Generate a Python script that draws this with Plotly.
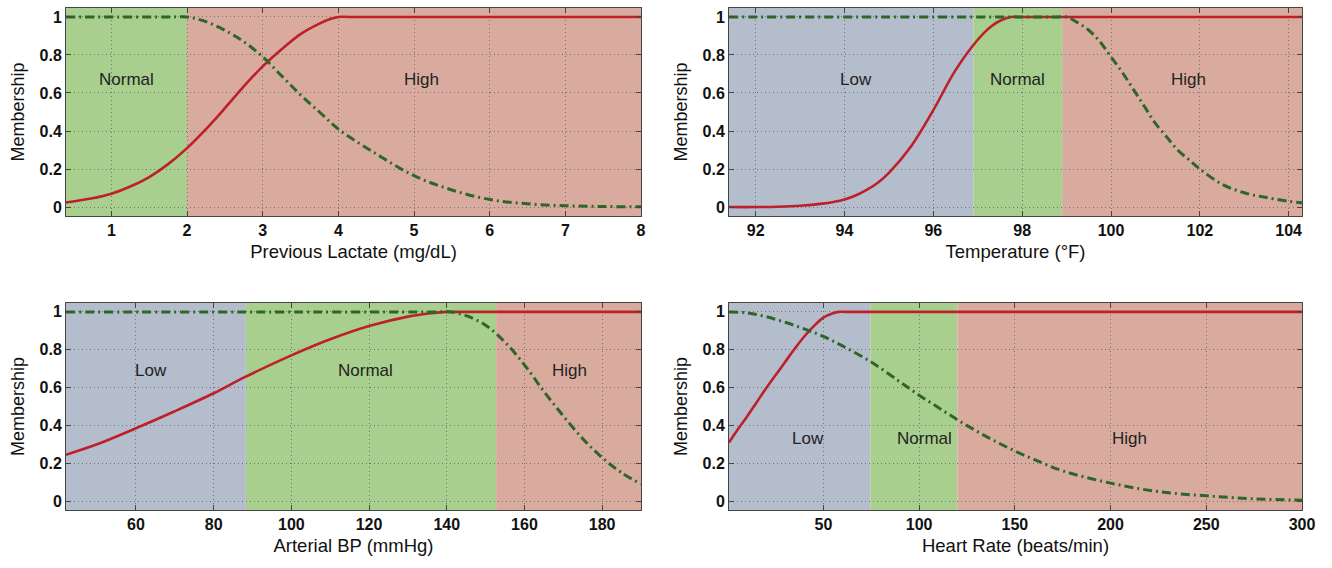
import plotly.graph_objects as go

# ---------------- data ----------------
lac_hi_x = [0.4, 0.75, 1.0, 1.25, 1.5, 1.75, 2.0, 2.25, 2.5, 2.75, 3.0, 3.25, 3.5, 3.75, 3.9, 4.0, 4.15, 8.0]
lac_hi_y = [0.024, 0.046, 0.07, 0.108, 0.158, 0.226, 0.31, 0.41, 0.52, 0.635, 0.74, 0.83, 0.91, 0.965, 0.99, 1.0, 1.0, 1.0]
lac_no_x = [0.4, 1.8, 2.0, 2.25, 2.5, 2.75, 3.0, 3.25, 3.5, 3.75, 4.0, 4.5, 5.0, 5.5, 6.0, 6.5, 7.0, 7.5, 8.0]
lac_no_y = [1.0, 1.0, 1.0, 0.975, 0.93, 0.87, 0.79, 0.69, 0.59, 0.50, 0.41, 0.28, 0.165, 0.09, 0.04, 0.017, 0.007, 0.003, 0.001]

tmp_a_x = [91.4, 92.0, 92.5, 93.0, 93.5, 93.75, 94.0, 94.25, 94.5, 94.75, 95.0, 95.5, 96.0, 96.5, 97.0, 97.3, 97.55, 97.75, 97.95, 104.3]
tmp_a_y = [0.0, 0.0, 0.002, 0.007, 0.018, 0.027, 0.04, 0.061, 0.09, 0.128, 0.18, 0.32, 0.51, 0.72, 0.88, 0.95, 0.985, 1.0, 1.0, 1.0]
tmp_b_x = [91.4, 98.8, 99.0, 99.25, 99.5, 99.75, 100.0, 100.25, 100.5, 100.75, 101.0, 101.25, 101.5, 101.75, 102.0, 102.5, 103.0, 103.5, 104.0, 104.3]
tmp_b_y = [1.0, 1.0, 1.0, 0.97, 0.93, 0.87, 0.79, 0.71, 0.62, 0.53, 0.44, 0.37, 0.30, 0.25, 0.20, 0.12, 0.075, 0.05, 0.03, 0.022]

bp_a_x = [42, 50, 60, 70, 80, 88, 100, 110, 120, 130, 136, 140, 144, 190]
bp_a_y = [0.245, 0.30, 0.385, 0.475, 0.57, 0.655, 0.77, 0.855, 0.925, 0.975, 0.993, 1.0, 1.0, 1.0]
bp_b_x = [42, 138, 141, 145, 150, 155, 160, 165, 170, 175, 180, 185, 190]
bp_b_y = [1.0, 1.0, 1.0, 0.98, 0.93, 0.84, 0.72, 0.58, 0.45, 0.33, 0.23, 0.15, 0.09]

hr_a_x = [0.7, 5, 10, 15, 20, 25, 30, 35, 40, 45, 50, 55, 58, 62, 300]
hr_a_y = [0.31, 0.375, 0.445, 0.52, 0.595, 0.665, 0.735, 0.805, 0.87, 0.925, 0.97, 0.993, 1.0, 1.0, 1.0]
hr_b_x = [0.7, 10, 20, 30, 40, 50, 60, 75, 90, 100, 110, 120, 130, 140, 150, 160, 175, 200, 225, 250, 275, 300]
hr_b_y = [1.0, 0.995, 0.975, 0.945, 0.91, 0.87, 0.82, 0.735, 0.63, 0.56, 0.495, 0.43, 0.37, 0.315, 0.265, 0.22, 0.16, 0.095, 0.05, 0.028, 0.012, 0.005]

# x ranges, ticks and region boundaries
x_titles = ["Previous Lactate (mg/dL)", "Temperature (°F)", "Arterial BP (mmHg)", "Heart Rate (beats/min)"]
x_ranges = [[0.4, 8], [91.4, 104.3], [42, 190], [0.7, 300]]
x_ticks = [[1, 2, 3, 4, 5, 6, 7, 8], [92, 94, 96, 98, 100, 102, 104],
           [60, 80, 100, 120, 140, 160, 180], [50, 100, 150, 200, 250, 300]]
y_ticks = [0, 0.2, 0.4, 0.6, 0.8, 1]
y_tick_text = ["0", "0.2", "0.4", "0.6", "0.8", "1"]

regions = [
    [("Normal", 0.4, 2.0), ("High", 2.0, 8.0)],
    [("Low", 91.4, 96.9), ("Normal", 96.9, 98.9), ("High", 98.9, 104.3)],
    [("Low", 42, 88.3), ("Normal", 88.3, 152.7), ("High", 152.7, 190)],
    [("Low", 0.7, 74.5), ("Normal", 74.5, 120), ("High", 120, 300)],
]
labels = [
    [("Normal", 1.2, 0.67), ("High", 5.1, 0.67)],
    [("Low", 94.25, 0.67), ("Normal", 97.9, 0.67), ("High", 101.75, 0.67)],
    [("Low", 64, 0.69), ("Normal", 119, 0.69), ("High", 171.5, 0.69)],
    [("Low", 42, 0.33), ("Normal", 103, 0.33), ("High", 210, 0.33)],
]
red_curves = [(lac_hi_x, lac_hi_y), (tmp_a_x, tmp_a_y), (bp_a_x, bp_a_y), (hr_a_x, hr_a_y)]
green_curves = [(lac_no_x, lac_no_y), (tmp_b_x, tmp_b_y), (bp_b_x, bp_b_y), (hr_b_x, hr_b_y)]

# ---------------- styling ----------------
W, H = 1332, 568
region_colors = {"Normal": "rgb(168,207,141)", "High": "rgb(217,171,159)", "Low": "rgb(179,189,204)"}
red = "rgb(190,32,42)"
green = "rgb(46,102,40)"
font = "Liberation Sans, Arial, sans-serif"

# panel frames in pixels: (left, right, top, bottom)
frames = [(66, 641, 8, 216), (729, 1302, 8, 216), (66, 641, 303, 510), (729, 1302, 303, 510)]

fig = go.Figure()
layout = dict(
    width=W, height=H, margin=dict(l=0, r=0, t=0, b=0, autoexpand=False),
    paper_bgcolor="white", plot_bgcolor="white", showlegend=False,
    font=dict(family=font, color="#111"),
)
grid = dict(showgrid=True, gridcolor="rgb(115,115,115)", griddash="1px,3px", gridwidth=1)
shapes = []
annotations = []
for i in range(4):
    sfx = "" if i == 0 else str(i + 1)
    xa, ya = "x" + sfx, "y" + sfx
    l, r, t, b = frames[i]
    layout["xaxis" + sfx] = dict(
        domain=[l / W, r / W], range=x_ranges[i], anchor=ya, automargin=False,
        tickvals=x_ticks[i], ticks="inside", ticklen=5, tickcolor="#444",
        showline=True, linecolor="#444", linewidth=1, mirror="allticks",
        zeroline=False, tickfont=dict(size=16, family=font, color="#111", weight="bold"),
        title=dict(text=x_titles[i], font=dict(size=18.5, family=font, color="#111"), standoff=6),
        **grid,
    )
    layout["yaxis" + sfx] = dict(
        domain=[1 - b / H, 1 - t / H], range=[-0.047, 1.047], anchor=xa, automargin=False,
        tickvals=y_ticks, ticktext=y_tick_text, ticks="inside", ticklen=5, tickcolor="#444",
        showline=True, linecolor="#444", linewidth=1, mirror="allticks",
        zeroline=False, tickfont=dict(size=16, family=font, color="#111", weight="bold"),
        title=dict(text="Membership", font=dict(size=18, family=font, color="#111"), standoff=10),
        **grid,
    )
    for name, x0, x1 in regions[i]:
        shapes.append(dict(type="rect", xref=xa, yref=ya + " domain", x0=x0, x1=x1, y0=0, y1=1,
                           fillcolor=region_colors[name], line=dict(width=0), layer="below"))
    for name, lx, ly in labels[i]:
        annotations.append(dict(text=name, x=lx, y=ly, xref=xa, yref=ya, showarrow=False,
                                font=dict(size=17, family=font, color="#222")))
    gx, gy = green_curves[i]
    rx, ry = red_curves[i]
    fig.add_trace(go.Scatter(x=rx, y=ry, xaxis=xa, yaxis=ya, mode="lines",
                             line=dict(color=red, width=2.6, shape="spline", smoothing=1.0),
                             hoverinfo="skip"))
    fig.add_trace(go.Scatter(x=gx, y=gy, xaxis=xa, yaxis=ya, mode="lines",
                             line=dict(color=green, width=3, shape="spline", smoothing=1.0,
                                       dash="9px,4px,2px,4px"),
                             hoverinfo="skip"))

layout["shapes"] = shapes
layout["annotations"] = annotations
fig.update_layout(**layout)
fig.write_html("out.html", config={"displayModeBar": False},
               post_script="document.body.style.margin='0';")
